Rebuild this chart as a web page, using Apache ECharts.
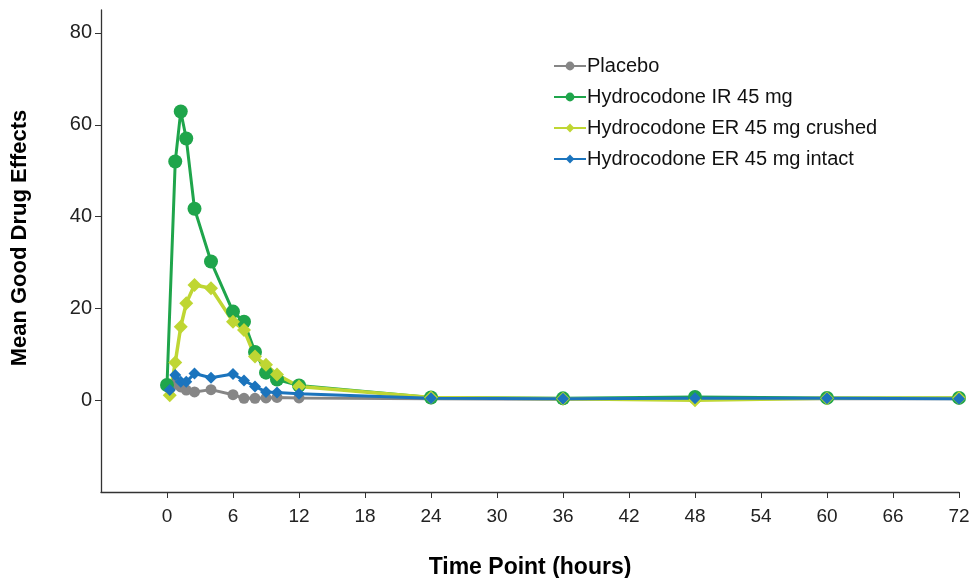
<!DOCTYPE html>
<html>
<head>
<meta charset="utf-8">
<script src="https://cdn.jsdelivr.net/npm/echarts@6/dist/echarts.min.js"></script>
<style>
  html, body { margin: 0; padding: 0; background: #fff; }
  #main { width: 970px; height: 578px; }
</style>
</head>
<body>
<div id="main"></div>
<script>
// time points (hours)
var hoursIR = [0, 0.75, 1.25, 1.75, 2.5, 4, 6, 7, 8, 9, 10, 12, 24, 36, 48, 60, 72];
var hoursOther = [0.25, 0.75, 1.25, 1.75, 2.5, 4, 6, 7, 8, 9, 10, 12, 24, 36, 48, 60, 72];

var placebo = [2.5, 3.5, 2.9, 2.2, 1.8, 2.3, 1.2, 0.4, 0.4, 0.5, 0.6, 0.5, 0.3, 0.2, 0.3, 0.3, 0.3];
var hydroIR = [3.3, 52.0, 62.9, 57.0, 41.7, 30.2, 19.3, 17.1, 10.5, 6.0, 4.5, 3.2, 0.6, 0.4, 0.7, 0.5, 0.5];
var hydroERCrushed = [1.1, 8.2, 16.0, 21.1, 25.1, 24.4, 17.1, 15.3, 9.5, 7.7, 5.6, 3.0, 0.6, 0.3, 0.0, 0.4, 0.5];
var hydroERIntact = [2.2, 5.5, 4.0, 4.0, 5.8, 4.9, 5.7, 4.3, 3.0, 1.8, 1.7, 1.4, 0.4, 0.3, 0.4, 0.4, 0.3];

var xTicks = [0, 6, 12, 18, 24, 30, 36, 42, 48, 54, 60, 66, 72];
var yTicks = [0, 20, 40, 60, 80];

function pairs(xs, ys) {
  return ys.map(function(v, i) { return [xs[i], v]; });
}

var myChart = echarts.init(document.getElementById("main"));

function lineSeries(name, xs, ys, color, symbol, size, width) {
  return {
    name: name,
    type: "line",
    data: pairs(xs, ys),
    symbol: symbol,
    symbolSize: size,
    showAllSymbol: true,
    lineStyle: { color: color, width: width },
    itemStyle: { color: color },
    emphasis: { disabled: true },
    animation: false
  };
}

var option = {
  textStyle: { fontFamily: "Liberation Sans, Arial, sans-serif" },
  grid: { left: 101, right: 11, top: 10, bottom: 86, outerBoundsMode: "none" },
  legend: {
    left: 548,
    top: 51,
    orient: "vertical",
    itemWidth: 32,
    itemHeight: 11,
    itemGap: 11,
    textStyle: { fontSize: 20, color: "#111", padding: [0, 0, 0, -4] },
    data: ["Placebo", "Hydrocodone IR 45 mg", "Hydrocodone ER 45 mg crushed", "Hydrocodone ER 45 mg intact"]
  },
  xAxis: {
    type: "value",
    min: -6,
    max: 72,
    interval: 6,
    name: "Time Point (hours)",
    nameLocation: "middle",
    nameGap: 64,
    nameTextStyle: { fontSize: 23, fontWeight: "bold", color: "#000" },
    axisLine: { onZero: false, lineStyle: { color: "#333", width: 1.3 } },
    axisTick: { show: true, length: 6, customValues: xTicks, lineStyle: { color: "#333" } },
    axisLabel: {
      customValues: xTicks,
      margin: 15,
      fontSize: 19,
      color: "#222",
      fontFamily: "Liberation Sans Narrow, Arial Narrow, sans-serif"
    },
    splitLine: { show: false }
  },
  yAxis: {
    type: "value",
    min: -20,
    max: 85,
    interval: 20,
    name: "Mean Good Drug Effects",
    nameLocation: "middle",
    nameGap: 70,
    nameTextStyle: { fontSize: 22, fontWeight: "bold", color: "#000", padding: [0, 0, 0, 26] },
    axisLine: { show: true, onZero: false, lineStyle: { color: "#333", width: 1.3 } },
    axisTick: { show: true, length: 6, customValues: yTicks, lineStyle: { color: "#333" } },
    axisLabel: { customValues: yTicks, margin: 9, fontSize: 20, color: "#222" },
    splitLine: { show: false }
  },
  series: [
    lineSeries("Placebo", hoursOther, placebo, "#868686", "circle", 11, 3),
    lineSeries("Hydrocodone IR 45 mg", hoursIR, hydroIR, "#1fa54b", "circle", 14, 3),
    lineSeries("Hydrocodone ER 45 mg crushed", hoursOther, hydroERCrushed, "#bfd633", "diamond", 14, 3.5),
    lineSeries("Hydrocodone ER 45 mg intact", hoursOther, hydroERIntact, "#1b74bd", "diamond", 12, 3)
  ],
  animation: false
};

myChart.setOption(option);
</script>
</body>
</html>
